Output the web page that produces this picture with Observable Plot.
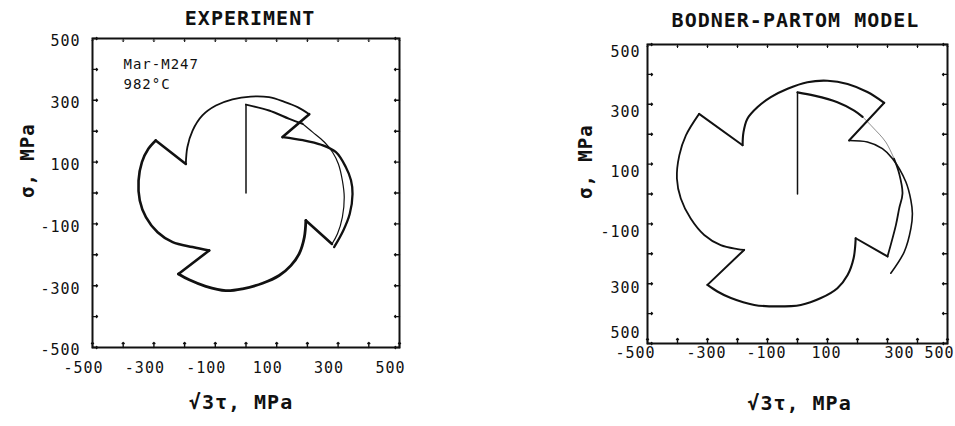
<!DOCTYPE html>
<html><head><meta charset="utf-8">
<script src="https://cdn.jsdelivr.net/npm/d3@7"></script>
<script src="https://cdn.jsdelivr.net/npm/@observablehq/plot@0.6"></script>
<style>
html,body{margin:0;padding:0;background:#fff;}
#wrap{position:relative;width:955px;height:426px;overflow:hidden;background:#fff;}
#wrap svg{position:absolute;top:0;}
</style></head><body><div id="wrap"></div>
<script>
// ---- tick values / labels ----
const xTicks = [-500, -300, -100, 100, 300, 500];
const yTicks = [500, 300, 100, -100, -300, -500];
const minorTicks = [-500, -400, -300, -200, -100, 0, 100, 200, 300, 400, 500];
const modelYTickLabels = ["500", "300", "100", "-100", "300", "500"]; // as printed in the model panel
const titles = ["EXPERIMENT", "BODNER-PARTOM MODEL"];
const xTitle = "√3τ, MPa";
const yTitle = "σ, MPa";
const expNote = ["Mar-M247", "982°C"];

// ---- EXPERIMENT stress path: [√3τ, σ] in MPa ----
const expVertical = [[0, 0], [0, 286]];
const expArc0 = [[0, 286], [75, 267], [141, 240], [184, 224], [217, 197], [255, 165], [282, 132], [301, 94], [314, 40], [320, -14], [314, -78], [298, -132], [280, -165]];
const expArc1 = [[195, -89], [190, -143], [173, -197], [146, -235], [108, -267], [54, -292], [-11, -310], [-66, -316], [-131, -302], [-185, -281], [-220, -262]];
const expArc2 = [[-120, -186], [-174, -175], [-239, -159], [-288, -127], [-326, -78], [-346, -24], [-350, 40], [-339, 100], [-318, 143], [-294, 170]];
const expArc3 = [[-196, 94], [-191, 148], [-174, 202], [-142, 251], [-98, 283], [-44, 303], [15, 312], [75, 310], [125, 295], [168, 278], [206, 255]];
const expFinal = [[119, 181], [185, 171], [245, 156], [293, 132], [325, 84], [342, 41], [347, -3], [338, -67], [317, -121], [287, -175]];

// ---- BODNER-PARTOM MODEL stress path ----
const modVertical = [[0, 0], [0, 340]];
const modArc0Top = [[0, 340], [56, 329], [133, 307], [189, 279], [217, 258]];
const modArc0Faint = [[217, 258], [250, 224], [294, 174], [322, 118]];
const modArc0Right = [[322, 118], [339, 68], [350, 2], [339, -48], [328, -104], [300, -209]];
const modArc1 = [[194, -148], [187, -215], [167, -271], [133, -315], [78, -348], [11, -371], [-67, -376], [-144, -371], [-222, -348], [-267, -326], [-300, -304]];
const modArc2 = [[-178, -187], [-200, -184], [-256, -171], [-311, -137], [-356, -82], [-389, -15], [-402, 52], [-394, 129], [-372, 196], [-328, 268]];
const modArc3 = [[-183, 163], [-180, 207], [-167, 252], [-133, 291], [-89, 324], [-33, 352], [33, 374], [100, 379], [167, 368], [233, 341], [289, 305]];
const modFinal = [[172, 179], [233, 174], [283, 152], [317, 118], [361, 41], [378, -21], [383, -65], [378, -115], [356, -193], [311, -265]];

const MONO = "'DejaVu Sans Mono', 'Liberation Mono', monospace";
const INK = "#111";
const fmt = d => String(d); // plain hyphen-minus, as typed in the original

function path(pts, w, extra = {}) {
  return Plot.line(pts, {x: d => d[0], y: d => d[1], stroke: INK, strokeWidth: w,
    curve: "catmull-rom", strokeLinejoin: "round", strokeLinecap: "round", ...extra});
}
function notches(seq, w) {
  const out = [];
  for (let i = 0; i < seq.length - 1; i++) {
    out.push(Plot.line([seq[i][seq[i].length - 1], seq[i + 1][0]],
      {x: d => d[0], y: d => d[1], stroke: INK, strokeWidth: w, strokeLinecap: "round", strokeLinejoin: "round"}));
  }
  return out;
}
function frameTicks() {
  const o = {length: 5, anchor: "start", stroke: INK, strokeWidth: 1.4};
  return [
    Plot.vector(minorTicks, {y: d => d, frameAnchor: "left", rotate: 90, ...o}),
    Plot.vector(minorTicks, {y: d => d, frameAnchor: "right", rotate: 270, ...o}),
    Plot.vector(minorTicks, {x: d => d, frameAnchor: "bottom", rotate: 0, ...o}),
    Plot.vector(minorTicks, {x: d => d, frameAnchor: "top", rotate: 180, length: 3, anchor: "start", stroke: INK, strokeWidth: 1})
  ];
}
const baseStyle = {fontFamily: MONO, letterSpacing: "1px", color: INK, background: "transparent"};
const tickText = {tickSize: 0, fontSize: 15, label: null};

const left = Plot.plot({
  width: 460, height: 426,
  marginLeft: 92, marginRight: 61, marginTop: 38, marginBottom: 79,
  x: {domain: [-500, 500]}, y: {domain: [-500, 500]},
  style: baseStyle,
  marks: [
    Plot.frame({stroke: INK, strokeWidth: 2}),
    ...frameTicks(),
    Plot.axisX({ticks: xTicks, tickPadding: 15, dx: -9, tickFormat: fmt, ...tickText}),
    Plot.axisY({ticks: yTicks, tickPadding: 12, dy: 3, tickFormat: fmt, ...tickText}),
    Plot.text([titles[0]], {text: d => d, frameAnchor: "top", dx: 4, dy: -20, fontSize: 20, fontWeight: "bold", lineAnchor: "middle"}),
    Plot.text([xTitle], {text: d => d, frameAnchor: "bottom", dx: -5, dy: 55, fontSize: 20, fontWeight: "bold", lineAnchor: "middle"}),
    Plot.text([yTitle], {text: d => d, frameAnchor: "left", dx: -65, dy: 5, rotate: -90, fontSize: 19, fontWeight: "bold", lineAnchor: "middle"}),
    Plot.text([expNote.join("\n")], {text: d => d, frameAnchor: "top-left", dx: 31, dy: 16, fontSize: 14, textAnchor: "start", lineAnchor: "top", lineHeight: 1.45}),
    path(expVertical, 1.5),
    path(expArc0.slice(0, 4), 2),
    path(expArc0.slice(3), 1.2),
    path(expArc1, 2.8),
    path(expArc2, 2.6),
    path(expArc3, 1.8),
    path(expFinal, 2.3),
    ...notches([expArc0, expArc1, expArc2, expArc3, expFinal], 2.6)
  ]
});

const modelY = d => modelYTickLabels[yTicks.indexOf(d)];
const right = Plot.plot({
  width: 475, height: 426,
  marginLeft: 167, marginRight: 8, marginTop: 44, marginBottom: 83,
  x: {domain: [-500, 500]}, y: {domain: [-500, 500]},
  style: baseStyle,
  marks: [
    Plot.frame({stroke: INK, strokeWidth: 2}),
    ...frameTicks(),
    Plot.axisX({ticks: xTicks.slice(0, 1), tickPadding: 4, dx: -12, tickFormat: fmt, ...tickText}),
    Plot.axisX({ticks: xTicks.slice(1, 4), tickPadding: 4, dx: -1, tickFormat: fmt, ...tickText}),
    Plot.axisX({ticks: xTicks.slice(4, 5), tickPadding: 4, dx: 12, tickFormat: fmt, ...tickText}),
    Plot.axisX({ticks: xTicks.slice(5), tickPadding: 4, dx: -8, tickFormat: fmt, ...tickText}),
    Plot.axisY({ticks: yTicks.slice(0, 4), tickPadding: 7, dy: 8, tickFormat: modelY, ...tickText}),
    Plot.axisY({ticks: yTicks.slice(4, 5), tickPadding: 7, dy: 4, tickFormat: modelY, ...tickText}),
    Plot.axisY({ticks: yTicks.slice(5), tickPadding: 7, dy: -10, tickFormat: modelY, ...tickText}),
    Plot.text([titles[1]], {text: d => d, frameAnchor: "top", dx: -2, dy: -24, fontSize: 20, fontWeight: "bold", lineAnchor: "middle"}),
    Plot.text([xTitle], {text: d => d, frameAnchor: "bottom", dx: 2, dy: 60, fontSize: 20, fontWeight: "bold", lineAnchor: "middle"}),
    Plot.text([yTitle], {text: d => d, frameAnchor: "left", dx: -62, dy: 5, rotate: -90, fontSize: 19, fontWeight: "bold", lineAnchor: "middle"}),
    path(modVertical, 1.5),
    path(modArc0Top, 2.2),
    path(modArc0Faint, 0.8, {strokeOpacity: 0.6}),
    path(modArc0Right, 1.8),
    path(modArc1, 2.1),
    path(modArc2, 1.8),
    path(modArc3, 2.1),
    path(modFinal, 1.6),
    ...notches([modArc0Right, modArc1, modArc2, modArc3, modFinal], 2)
  ]
});
left.style.left = "0px";
right.style.left = "480px";
const wrap = document.getElementById("wrap");
wrap.appendChild(left);
wrap.appendChild(right);
</script></body></html>
